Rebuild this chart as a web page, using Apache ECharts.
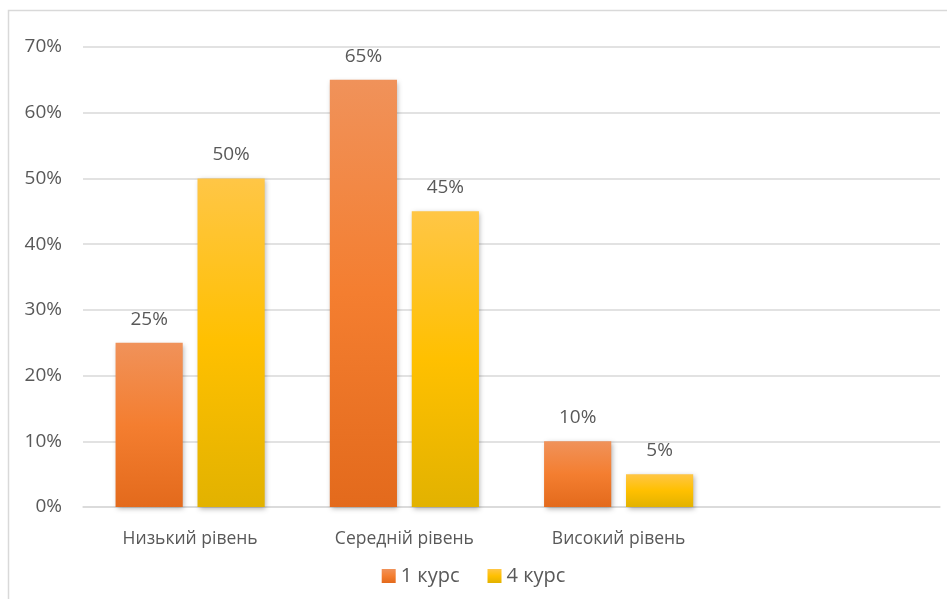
<!DOCTYPE html>
<html>
<head>
<meta charset="utf-8">
<script src="https://cdn.jsdelivr.net/npm/echarts@6/dist/echarts.min.js"></script>
<style>
  html, body { margin: 0; padding: 0; background: #fff; }
  #chart { width: 947px; height: 599px; }
</style>
</head>
<body>
<div id="chart"></div>
<script>
// Survey levels by course (percent of students)
const categories = ['Низький рівень', 'Середній рівень', 'Високий рівень', ''];
const seriesNames = ['1 курс', '4 курс'];
const course1 = [25, 65, 10, null];
const course4 = [50, 45, 5, null];
const yTicks = [0, 10, 20, 30, 40, 50, 60, 70];

const FONT = '"Open Sans", "Liberation Sans", sans-serif';
const TEXT = '#595959';

function grad(top, mid, bottom) {
  return new echarts.graphic.LinearGradient(0, 0, 0, 1, [
    { offset: 0, color: top },
    { offset: 0.5, color: mid },
    { offset: 1, color: bottom }
  ]);
}

const orange = grad('#F0925A', '#F47E30', '#E36A1C');
const yellow = grad('#FFC646', '#FFC000', '#E2B200');

const chart = echarts.init(document.getElementById('chart'), null, { renderer: 'canvas' });

function barSeries(name, data, color) {
  return {
    name: name,
    type: 'bar',
    data: data,
    barGap: '22%',
    barCategoryGap: '30.4%',
    itemStyle: {
      color: color,
      shadowColor: 'rgba(0,0,0,0.3)',
      shadowBlur: 5,
      shadowOffsetX: 1.5,
      shadowOffsetY: 2
    },
    label: {
      show: true,
      position: 'top',
      distance: 14,
      formatter: p => p.value + '%',
      fontFamily: FONT,
      fontSize: 19,
      color: TEXT
    },
    emphasis: { disabled: true }
  };
}

chart.setOption({
  animation: false,
  backgroundColor: '#fff',
  graphic: [{
    type: 'rect',
    shape: { x: 8.5, y: 10.5, width: 960, height: 620 },
    style: { fill: 'none', stroke: '#d9d9d9', lineWidth: 1.5 },
    silent: true,
    z: -10
  }],
  grid: { left: 83, right: 7, top: 47, bottom: 92, containLabel: false },
  legend: {
    bottom: 8,
    left: 'center',
    itemWidth: 14,
    itemHeight: 14,
    itemGap: 28,
    icon: 'rect',
    textStyle: { fontFamily: FONT, fontSize: 20, color: TEXT, padding: [0, 0, 0, 0] },
    data: [
      { name: seriesNames[0], itemStyle: { color: orange } },
      { name: seriesNames[1], itemStyle: { color: yellow } }
    ]
  },
  xAxis: {
    type: 'category',
    data: categories,
    axisLine: { show: true, lineStyle: { color: '#d9d9d9', width: 1.5 } },
    axisTick: { show: false },
    axisLabel: { fontFamily: FONT, fontSize: 17.5, color: TEXT, margin: 23, interval: 0 }
  },
  yAxis: {
    type: 'value',
    min: yTicks[0],
    max: yTicks[yTicks.length - 1],
    interval: 10,
    axisLine: { show: false },
    axisTick: { show: false },
    splitLine: { lineStyle: { color: '#d9d9d9', width: 1.5 } },
    axisLabel: { formatter: '{value}%', fontFamily: FONT, fontSize: 19, color: TEXT, margin: 21 }
  },
  series: [
    barSeries(seriesNames[0], course1, orange),
    barSeries(seriesNames[1], course4, yellow)
  ]
});
</script>
</body>
</html>
